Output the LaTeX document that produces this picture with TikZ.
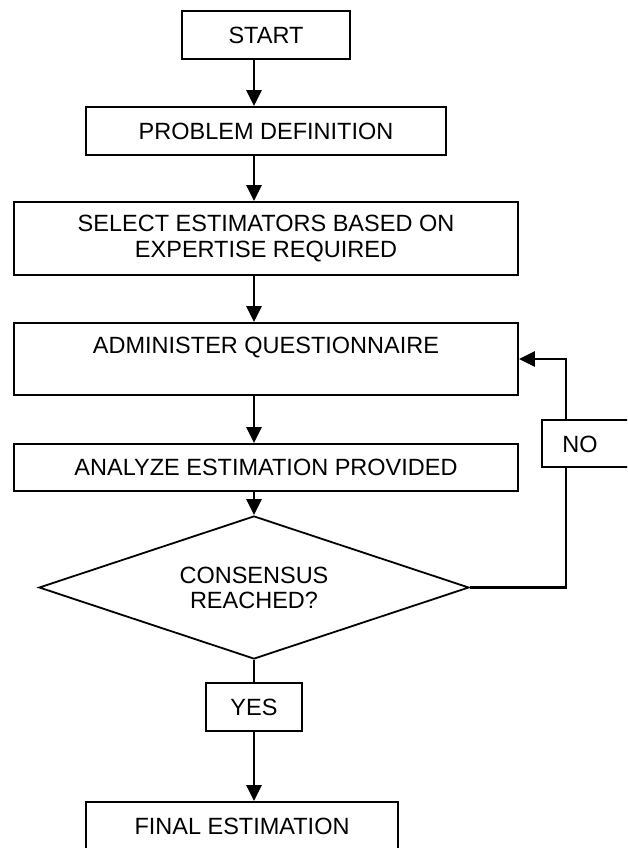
\documentclass[tikz,border=0pt]{standalone}
\usepackage{fontspec}
\setmainfont{Liberation Sans}
\usetikzlibrary{arrows.meta,shapes.geometric}
\begin{document}
\begin{tikzpicture}[x=1pt,y=-1pt,
  box/.style={draw, line width=1.8pt, rectangle, inner sep=0pt, align=center,
    font=\fontsize{23.5}{26}\selectfont},
  dia/.style={draw, line width=1.8pt, diamond, shape aspect=3, inner sep=0pt, align=center,
    font=\fontsize{23.5}{25}\selectfont},
  txt/.style={inner sep=0pt, align=center, font=\fontsize{23.5}{26}\selectfont},
  flow/.style={line width=2.6pt, -{Triangle[length=16pt,width=15pt]}},
  link/.style={line width=2.6pt}]
\useasboundingbox (0,0) rectangle (627,848);
\clip (0,0) rectangle (627,848);
\coordinate (axis) at (254,0);
\coordinate (fb) at (566,0);

\node[box, minimum width=168pt, minimum height=48pt] (start) at (266,35) {START};
\node[box, minimum width=360pt, minimum height=48pt] (prob) at (266,131) {PROBLEM DEFINITION};
\node[box, minimum width=504pt, minimum height=73pt] (sel) at (266,238.5)
  {SELECT ESTIMATORS BASED ON\\EXPERTISE REQUIRED};
\node[box, minimum width=504pt, minimum height=72pt] (adm) at (266,359) {};
\node[txt] (admtext) at (266,348) {ADMINISTER QUESTIONNAIRE};
\node[box, minimum width=504pt, minimum height=47pt] (ana) at (266,467.5) {ANALYZE ESTIMATION PROVIDED};
\node[dia, minimum width=430pt, minimum height=143pt] (cons) at (254,587.5)
  {CONSENSUS\\REACHED?};
\node[box, minimum width=96pt, minimum height=48pt] (yes) at (254,707) {YES};
\node[box, minimum width=312pt, minimum height=48pt] (final) at (242,826) {FINAL ESTIMATION};
\node[box, minimum width=98pt, minimum height=47pt] (nobox) at (591,443.5) {};
\node[txt] (notext) at (580,444) {NO};

\draw[flow] (start.south -| axis) -- (prob.north -| axis);
\draw[flow] (prob.south -| axis) -- (sel.north -| axis);
\draw[flow] (sel.south -| axis) -- (adm.north -| axis);
\draw[flow] (adm.south -| axis) -- (ana.north -| axis);
\draw[flow] (ana.south -| axis) -- (cons.north);
\draw[link] (cons.south) -- (yes.north);
\draw[flow] (yes.south) -- (final.north -| yes.south);
\draw[link] (cons.east) -- (cons.east -| fb) -- (nobox.south -| fb);
\draw[flow] (nobox.north -| fb) |- (adm.east);
\end{tikzpicture}
\end{document}
